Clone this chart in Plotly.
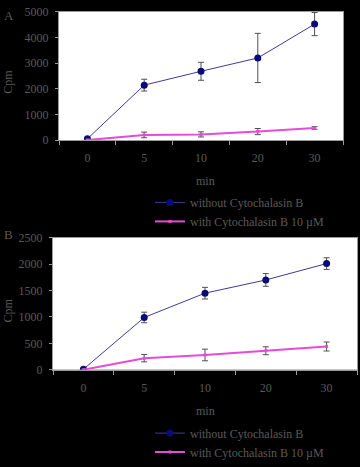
import plotly.graph_objects as go

times = ["0", "5", "10", "20", "30"]

a_without = [50, 2140, 2680, 3200, 4520]
a_without_err = [30, 230, 350, 960, 450]
a_with = [0, 200, 220, 330, 470]
a_with_err = [0, 110, 100, 120, 50]

b_without = [10, 990, 1450, 1700, 2010]
b_without_err = [20, 100, 110, 120, 110]
b_with = [0, 220, 280, 360, 440]
b_with_err = [0, 70, 110, 75, 85]

name_without = "without Cytochalasin B"
name_with = "with Cytochalasin B 10 µM"

BLUE_LINE = "#3c3c96"
BLUE_MK = "#0a0a78"
PINK = "#e84ad8"
ERR = "#505050"
TXT = "#5a5a5a"
AX = "#9a9a9a"
FONT = "Liberation Serif"

W, H = 360, 467

fig = go.Figure()

def add(x, y, err, name, color, lw, msym, msize, mcolor, xa, ya, legend, show):
    fig.add_trace(go.Scatter(
        x=x, y=y, name=name, mode="lines+markers",
        line=dict(color=color, width=lw),
        marker=dict(symbol=msym, size=msize, color=mcolor),
        error_y=dict(type="data", array=err, color=ERR, thickness=1, width=3),
        xaxis=xa, yaxis=ya, legend=legend, showlegend=show,
    ))

add(times, a_without, a_without_err, name_without, BLUE_LINE, 1, "circle", 7, BLUE_MK, "x", "y", "legend", True)
add(times, a_with, a_with_err, name_with, PINK, 2, "square", 3, PINK, "x", "y", "legend", True)
add(times, b_without, b_without_err, name_without, BLUE_LINE, 1, "circle", 7, BLUE_MK, "x2", "y2", "legend2", True)
add(times, b_with, b_with_err, name_with, PINK, 2, "square", 3, PINK, "x2", "y2", "legend2", True)

def px_x(p):
    return p / W

def px_y(p):
    return 1 - p / H

TF = dict(family=FONT, size=12, color=TXT)

xcommon = dict(type="category", tickson="boundaries", ticks="outside", ticklen=4,
               tickcolor=AX, showline=True, linecolor=AX, linewidth=1, mirror=True,
               showgrid=False, zeroline=False, ticklabelstandoff=7,
               tickfont=TF, fixedrange=True)
ycommon = dict(ticks="outside", ticklen=3, tickcolor=AX, showline=True, linecolor=AX,
               linewidth=1, mirror=True, showgrid=False, zeroline=False,
               tickfont=TF, ticklabelstandoff=4)

LF = dict(family=FONT, size=12, color=TXT)

fig.update_layout(
    width=W, height=H,
    margin=dict(l=0, r=0, t=0, b=0),
    paper_bgcolor="#000000",
    plot_bgcolor="#ffffff",
    font=dict(family=FONT, size=12, color=TXT),
    xaxis=dict(domain=[px_x(59), px_x(343)], anchor="y", range=[-0.5, 4.5], **xcommon),
    yaxis=dict(domain=[px_y(139), px_y(5)], anchor="x", range=[0, 5000], dtick=1000, **ycommon),
    xaxis2=dict(domain=[px_x(53), px_x(357)], anchor="y2", range=[-0.5, 4.5], **xcommon),
    yaxis2=dict(domain=[px_y(379), px_y(241)], anchor="x2", range=[0, 2500], dtick=500, **ycommon),
    legend=dict(x=px_x(150), y=px_y(189), xanchor="left", yanchor="top",
                bgcolor="rgba(0,0,0,0)", font=LF, tracegroupgap=0, itemwidth=30),
    legend2=dict(x=px_x(150), y=px_y(430), xanchor="left", yanchor="top",
                 bgcolor="rgba(0,0,0,0)", font=LF, tracegroupgap=0, itemwidth=30),
    showlegend=True,
    annotations=[
        dict(text="A", x=px_x(2), y=px_y(9), xref="paper", yref="paper", showarrow=False,
             xanchor="left", yanchor="middle", font=dict(family=FONT, size=13, color=TXT)),
        dict(text="B", x=px_x(2), y=px_y(238), xref="paper", yref="paper", showarrow=False,
             xanchor="left", yanchor="middle", font=dict(family=FONT, size=13, color=TXT)),
        dict(text="Cpm", x=px_x(8), y=px_y(78), xref="paper", yref="paper", showarrow=False,
             textangle=-90, xanchor="center", yanchor="middle", font=TF),
        dict(text="Cpm", x=px_x(8), y=px_y(317), xref="paper", yref="paper", showarrow=False,
             textangle=-90, xanchor="center", yanchor="middle", font=TF),
        dict(text="min", x=px_x(205), y=px_y(182), xref="paper", yref="paper", showarrow=False,
             xanchor="center", yanchor="middle", font=TF),
        dict(text="min", x=px_x(205), y=px_y(422), xref="paper", yref="paper", showarrow=False,
             xanchor="center", yanchor="middle", font=TF),
    ],
)

fig.write_html(
    "out.html",
    config={"displayModeBar": False, "staticPlot": True},
    post_script="document.body.style.margin='0';document.body.style.padding='0';document.body.style.overflow='hidden';document.body.style.background='#000';",
)
